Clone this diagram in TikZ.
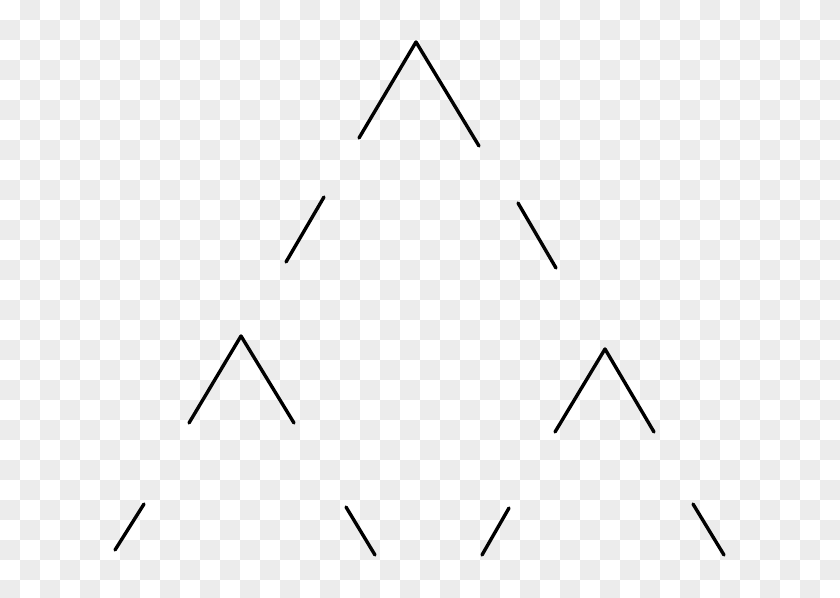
\documentclass[tikz,border=0pt]{standalone}
\definecolor{checkgray}{RGB}{236,236,236}
\tikzset{
  seg/.style={line width=3.4pt, line cap=round, line join=round, draw=black},
}
\begin{document}
\begin{tikzpicture}[x=1pt,y=-1pt]
\useasboundingbox (0,0) rectangle (840,597);
\begin{scope}
\clip (0,0) rectangle (840,597);
\fill[white] (0,0) rectangle (840,597);
\foreach \i in {0,...,41}{
  \foreach \j in {0,...,29}{
    \pgfmathtruncatemacro\s{mod(\i+\j,2)}
    \ifnum\s=1
      \fill[checkgray] (\i*20,\j*20) rectangle ++(20,20);
    \fi
  }
}
\end{scope}
% top peak
\coordinate (t1l) at (359,138);
\coordinate (t1a) at (416,42);
\coordinate (t1r) at (479,146);
\draw[seg] (t1l) -- (t1a) -- (t1r);
% second row
\coordinate (s1a) at (324,197);
\coordinate (s1b) at (286,262);
\draw[seg] (s1a) -- (s1b);
\coordinate (s2a) at (518,203);
\coordinate (s2b) at (556,268);
\draw[seg] (s2a) -- (s2b);
% third row peaks
\coordinate (t2l) at (189,423);
\coordinate (t2a) at (241,336);
\coordinate (t2r) at (294,423);
\draw[seg] (t2l) -- (t2a) -- (t2r);
\coordinate (t3l) at (555,432);
\coordinate (t3a) at (605,349);
\coordinate (t3r) at (654,432);
\draw[seg] (t3l) -- (t3a) -- (t3r);
% bottom row
\coordinate (b1a) at (144,504);
\coordinate (b1b) at (115,550);
\draw[seg] (b1a) -- (b1b);
\coordinate (b2a) at (346,507);
\coordinate (b2b) at (375,555);
\draw[seg] (b2a) -- (b2b);
\coordinate (b3a) at (509,508);
\coordinate (b3b) at (482,555);
\draw[seg] (b3a) -- (b3b);
\coordinate (b4a) at (693,504);
\coordinate (b4b) at (724,555);
\draw[seg] (b4a) -- (b4b);
\end{tikzpicture}
\end{document}
